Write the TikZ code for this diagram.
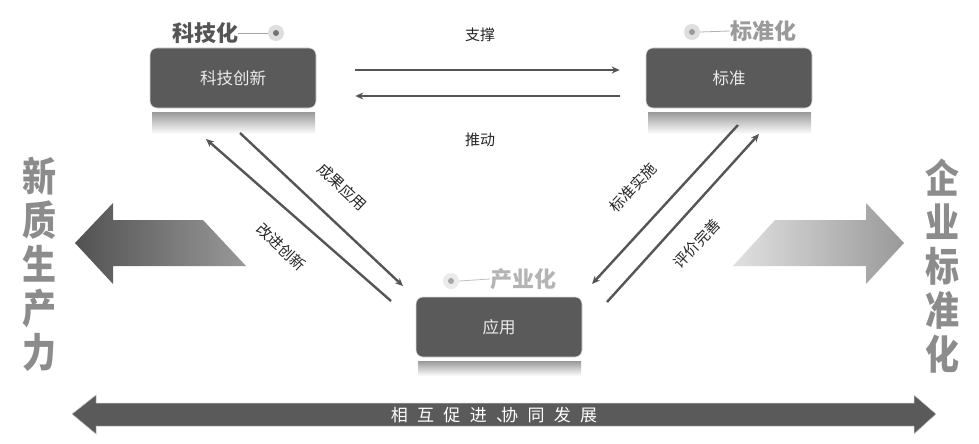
\documentclass[tikz,border=0pt]{standalone}
\usepackage{fontspec}
\setmainfont{Noto Sans CJK SC}
\usetikzlibrary{arrows.meta,calc}
\definecolor{boxgray}{HTML}{5A5A5A}
\definecolor{linegray}{HTML}{555555}
\definecolor{hdrA}{HTML}{555555}
\definecolor{hdrB}{HTML}{9A9A9A}
\definecolor{hdrC}{HTML}{B4B4B4}
\definecolor{vtext}{HTML}{8C8C8C}
\begin{document}
\begin{tikzpicture}[x=1pt,y=-1pt,
  box/.style={rectangle, rounded corners=7pt, fill=boxgray, draw=white!85!black, line width=0.6pt,
    minimum width=166pt, minimum height=60pt, text=white!92!black, font=\fontsize{16.5}{19}\selectfont},
  hdr/.style={font=\fontsize{22}{25}\selectfont\bfseries, inner sep=0pt},
  conn/.style={draw=linegray, line width=2.4pt, -{Stealth[length=8pt,width=7pt]}},
  lbl/.style={font=\fontsize{15}{18}\selectfont, text=black!85, inner sep=0pt},
  vert/.style={font=\fontsize{40}{44}\selectfont\bfseries, text=vtext, align=center, inner sep=0pt, xscale=0.85},
  dotouter/.style={fill=black!13, draw=none},
  dotinner/.style={fill=black!55, draw=none}
]
\useasboundingbox (0,0) rectangle (979,444);

% reflections
\shade[top color=black!40, bottom color=white] (152,112) rectangle (315,134);
\shade[top color=black!40, bottom color=white] (648,112) rectangle (811,134);
\shade[top color=black!40, bottom color=white] (418,361) rectangle (581,376);

% boxes
\node[box] (kj) at (233,78) {科技创新};
\node[box] (bz) at (729,78) {标准};
\node[box] (yy) at (499,327) {应用};

% headers
\node[hdr, text=hdrA] (hkj) at (205,33) {科技化};
\node[dotouter, circle, minimum size=16pt, inner sep=0pt] (dkj) at (276,33) {};
\fill[dotinner] (dkj) circle (3pt);
\draw[black!35, line width=0.8pt] (hkj.east) -- (dkj.west);

\node[hdr, text=hdrB] (hbz) at (763,31) {标准化};
\node[dotouter, circle, minimum size=16pt, inner sep=0pt] (dbz) at (692,32) {};
\fill[black!40] (dbz) circle (3pt);
\draw[black!30, line width=0.8pt] (dbz.east) -- (hbz.west);

\node[hdr, text=hdrC] (hyy) at (523,279) {产业化};
\node[dotouter, circle, minimum size=16pt, inner sep=0pt, fill=black!8] (dyy) at (451,281) {};
\fill[black!35] (dyy) circle (3pt);
\draw[black!25, line width=0.8pt] (dyy.east) -- (hyy.west);

% horizontal connectors
\coordinate (t1s) at ($(kj.east)+(39,-8)$);
\coordinate (t1e) at ($(bz.west)+(-26,-8)$);
\coordinate (t2s) at ($(bz.west)+(-26,18)$);
\coordinate (t2e) at ($(kj.east)+(39,18)$);
\draw[conn] (t1s) -- (t1e);
\draw[conn] (t2s) -- (t2e);
\node[lbl] (zc) at (480,35) {支撑};
\node[lbl] (td) at (480,140) {推动};

% left diagonal connectors
\coordinate (l1s) at (240,133);
\coordinate (l1e) at (403,286);
\coordinate (l2s) at (391,301);
\coordinate (l2e) at (206,139);
\draw[conn] (l1s) -- (l1e);
\draw[conn] (l2s) -- (l2e);
\node[lbl, rotate=-43] (cg) at (342,187) {成果应用};
\node[lbl, rotate=-43] (gj) at (281,247) {改进创新};

% right diagonal connectors
\coordinate (r1s) at (738,125);
\coordinate (r1e) at (592,284);
\coordinate (r2s) at (607,302);
\coordinate (r2e) at (759,134);
\draw[conn] (r1s) -- (r1e);
\draw[conn] (r2s) -- (r2e);
\node[lbl, rotate=47] (bs) at (633,188) {标准实施};
\node[lbl, rotate=47] (pj) at (697,244) {评价完善};

% big left arrow
\shade[left color=black!68, right color=black!40]
  (75,243) -- (113,203) -- (113,220) -- (203,220) -- (246,266) -- (113,266) -- (113,284) -- cycle;
% big right arrow
\shade[left color=black!12, right color=black!40]
  (733,266) -- (775,220) -- (866,220) -- (866,203) -- (904,243) -- (866,284) -- (866,266) -- cycle;

% vertical texts
\node[vert] (xz) at (40,264) {新\\质\\生\\产\\力};
\node[vert] (qy) at (942,266) {企\\业\\标\\准\\化};

% bottom double arrow
\fill[boxgray, draw=white!80!black, line width=0.5pt]
  (72,414) -- (96,395) -- (96,403) -- (914,403) -- (914,395) -- (936,414) -- (914,434) -- (914,426) -- (96,426) -- (96,434) -- cycle;
\node[font=\fontsize{17}{20}\selectfont\addfontfeature{LetterSpace=55}, text=white, inner sep=0pt] (bt) at (494,415) {相互促进、\kern-12pt 协同发展};
\end{tikzpicture}
\end{document}
